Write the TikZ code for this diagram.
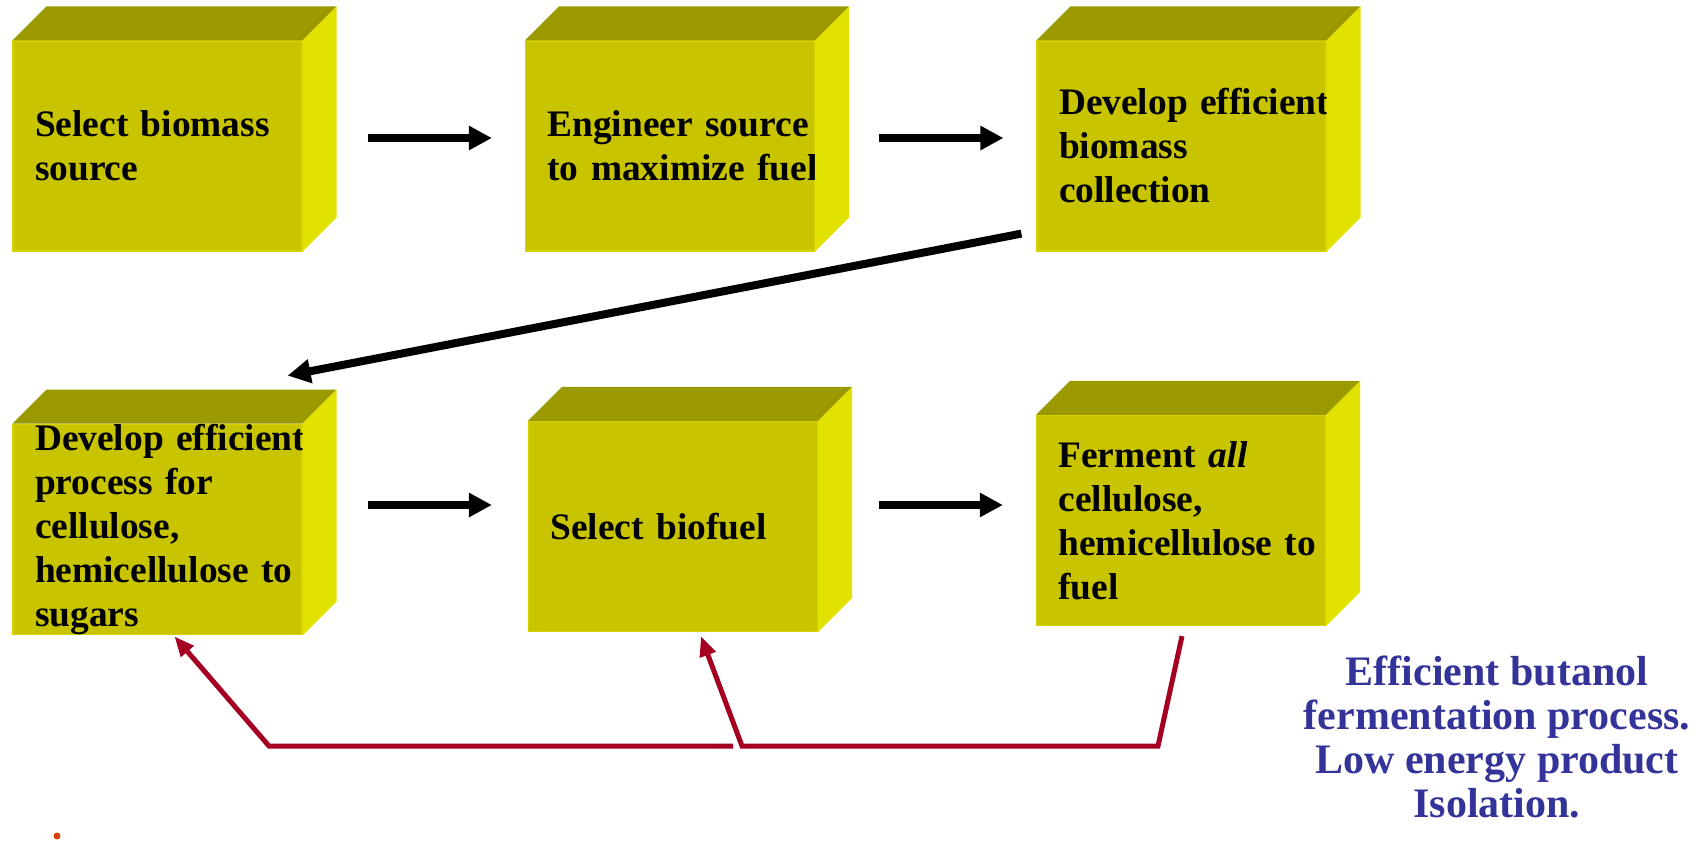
\documentclass[tikz,border=0pt]{standalone}
\usepackage{fontspec}
\setmainfont{Liberation Serif}
\usetikzlibrary{arrows.meta}
\definecolor{boxfront}{RGB}{200,196,0}
\definecolor{boxtop}{RGB}{154,153,0}
\definecolor{boxside}{RGB}{226,226,0}
\definecolor{boxedge}{RGB}{214,210,0}
\definecolor{loopred}{RGB}{165,0,33}
\definecolor{noteblue}{RGB}{51,51,153}
\definecolor{dotorange}{RGB}{216,64,16}
\hyphenpenalty=10000
\hbadness=10000
\hfuzz=50pt
\begin{document}
\begin{tikzpicture}[x=0.5pt,y=-0.5pt,
        stepbox/.style={rectangle,fill=boxfront,draw=boxedge,line width=0.6pt,
            minimum width=144.5pt,minimum height=105pt,text width=122.5pt,
            inner xsep=11pt,inner ysep=0pt,align=left,
            font=\fontsize{18.7}{22}\selectfont\bfseries},
        flowarrow/.style={line width=4pt,-{Triangle[length=11.5pt,width=11.5pt]}},
        feedback/.style={line width=2.5pt,loopred,line join=miter,
            -{Triangle[length=10pt,width=8pt]}}]
                \useasboundingbox (0,0) rectangle (1708,843);
                \node[stepbox] (b1) at (157.5,146) {Select~biomass\\source};
                \node[stepbox] (b2) at (670,146) {Engineer~source\\to~maximize~fuel};
                \node[stepbox] (b3) at (1181.5,146) {Develop~efficient\\biomass\\collection};
                \node[stepbox] (b4) at (157.5,529.5) {Develop~efficient\\process~for\\cellulose,\\hemicellulose~to\\sugars};
                \node[stepbox] (b5) at (673,526.5) {Select~biofuel};
                \node[stepbox] (b6) at (1181,520.5) {Ferment~\textit{all}\\cellulose,\\hemicellulose~to\\fuel};
                \foreach \n in {b1,b2,b3,b4,b5,b6}{
                    \fill[boxtop] (\n.north west) -- ++(34,-34) -- ([shift={(34,-34)}]\n.north east) -- (\n.north east) -- cycle;
                    \fill[boxside] (\n.north east) -- ++(34,-34) -- ([shift={(34,-34)}]\n.south east) -- (\n.south east) -- cycle;
                }
                \draw[flowarrow] ([shift={(65,-8)}]b1.east) -- ([shift={(-33,-8)}]b2.west);
                \draw[flowarrow] ([shift={(64,-8)}]b2.east) -- ([shift={(-33,-8)}]b3.west);
                \draw[flowarrow] ([shift={(-15,-18)}]b3.south west) -- ([shift={(-15,-48)}]b4.north east);
                \draw[flowarrow] ([shift={(65,-24.5)}]b4.east) -- ([shift={(-36,-21.5)}]b5.west);
                \draw[flowarrow] ([shift={(61,-21.5)}]b5.east) -- ([shift={(-33,-15.5)}]b6.west);
                % loop back under the lower row
                \coordinate (rc) at (1158,746);
                \coordinate (mc) at (742,746);
                \coordinate (mc2) at (733,746);
                \coordinate (lc) at (269,746);
                \draw[feedback] ([shift={(1,10)}]b6.south) -- (rc) -- (mc) -- ([shift={(173,4)}]b5.south west);
                \draw[feedback] (mc2) -- (lc) -- ([shift={(162,1)}]b4.south west);
                \node[align=center,text=noteblue,font=\fontsize{21}{22}\selectfont\bfseries] (note) at (1497,737)
                    {Efficient butanol\\fermentation process.\\Low energy product\\Isolation.};
                \fill[dotorange] (57,836) circle (3.5);
            \end{tikzpicture}
\end{document}
